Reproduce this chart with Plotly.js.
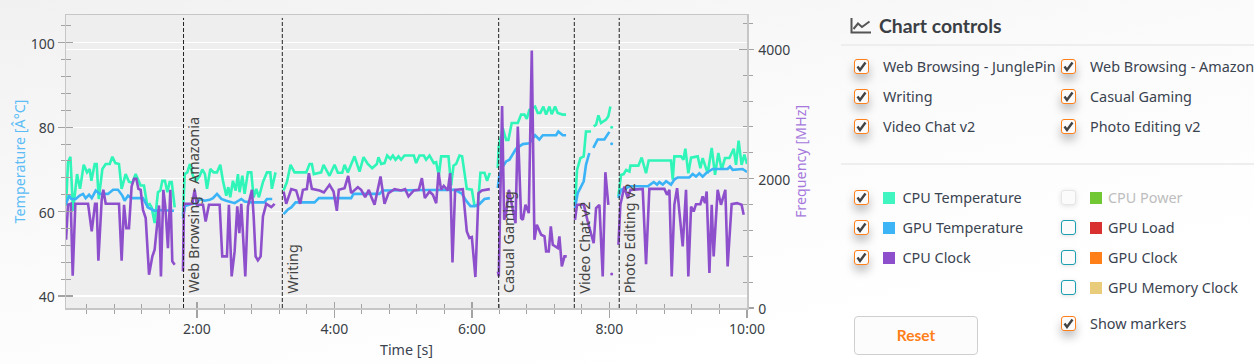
<!DOCTYPE html>
<html><head><meta charset="utf-8">
<script src="https://cdn.plot.ly/plotly-3.0.1.min.js"></script>
<style>
html,body{margin:0;padding:0;width:1254px;height:364px;overflow:hidden;background:linear-gradient(168deg,#f1f1f1 0,#fbfbfb 45%,#fff 80%);font-family:"Noto Sans",sans-serif;color:#3f4650}
#chart{position:absolute;left:0;top:0;width:1254px;height:364px}
#panel{position:absolute;left:0;top:0;width:1254px;height:364px;pointer-events:none}
.t{position:absolute;font-size:14.4px;line-height:20px;white-space:nowrap;color:#3a4350}
.cb{position:absolute;width:13px;height:13px;border:1.5px solid #ff7f19;border-radius:3px;background:#fbfbfb;box-shadow:0 6px 10px rgba(0,0,0,.25)}
.cb.off{border-color:#1a9eb0;box-shadow:0 1px 5px rgba(0,0,0,.12)}
.cb.dis{border-color:#e6e6e6;box-shadow:0 1px 5px rgba(0,0,0,.12)}
.cb svg{position:absolute;left:1px;top:1px}
.sw{position:absolute;width:12px;height:12px}
.sep{position:absolute;left:841px;width:413px;height:2px;background:#eeeeee}
#reset{position:absolute;left:854px;top:316px;width:122px;height:37px;border:1.5px solid #cfcfcf;border-radius:4px;background:#fcfcfc;color:#ff7f19;font:700 15.5px Lato,sans-serif;line-height:37px;text-align:center}
#ctitle{position:absolute;left:879px;top:14px;font:700 19.4px Lato,sans-serif;line-height:24px;color:#3b3f45}
</style></head><body>
<div id="chart"></div><div id="panel"></div>
<script>
// ---- axes ----
const xTickVals = [120, 240, 360, 480, 600];
const xTickText = ["2:00", "4:00", "6:00", "8:00", "10:00"];
const xRange = [5.75, 600];
const tempRange = [37.16, 106.6];
const freqRange = [0, 4530];

// ---- test boundaries ----
const testStarts = [108.3, 194.5, 383.3, 449.3, 488.5];
const testNames = ["Web Browsing - Amazonia", "Writing", "Casual Gaming", "Video Chat v2", "Photo Editing v2"];

// ---- CPU temperature ----
const cpuTempT = [5.8,7.5,9.6,11.9,15.4,18,21.2,24.1,26.4,27.9,30.8,32.5,34.3,37.5,40.4,43.9,46.2,48.8,52,54.3,57.8,60.7,63.6,66.5,70.9,73.8,76.7,78.8,80.5,83.1,86,88.1,89.8,92.1,94.2,96.2,98,100.6,null,
107.8,109.3,111.6,113.9,116.5,119.4,122.4,124.7,127,128.8,131.7,134.6,137.5,140.4,142.7,145.6,147.4,149.1,151.4,153.8,155.8,157.2,159.6,161.6,164.5,167.4,169.5,171.8,174.1,177.6,181.1,184,185.4,188.6,null,
195.6,198.5,201.7,205.2,215.4,218.3,220.3,222,228.4,230.5,235.7,240.1,243,246.8,248.8,251.7,257.5,261.9,265.4,269.1,272.9,277,278.4,280.8,283.7,286,288.9,291,293.3,295.9,298.2,301.1,309.3,311.3,314.2,318,320,323,326.7,328.8,331.1,333.1,339.5,341.8,343.9,346.2,349.1,351.4,355.5,359.9,362.2,365.1,367.4,370.9,373.2,375.6,null,
382.5,383.4,386.9,389.8,391.8,394.7,400,402.9,405.8,407.8,410.1,415.1,417.4,419.7,422.3,424.7,427.6,429.6,432.5,434.8,439.2,442.1,null,
449.9,451.7,454.6,457.5,459.5,463.9,null,466.2,468.3,470.3,472.6,477,479,480.8,null,
487.8,490.1,492.4,494.5,497.4,498.3,505.2,508.1,511.9,514.2,533.7,535.2,536.6,542.4,544.5,546.2,548.8,551.2,557,559.3,561.3,565.7,569.2,572.1,575,577.9,580.8,584.6,588.4,590.4,592.7,595.3,597.7,600];
const cpuTemp = [61.4,71.7,73,60.2,68.9,65.4,71.1,69.3,70.1,67.3,71.3,71.3,63,70.1,71.3,71.3,73,71.5,71.3,65.4,68.9,67.1,66.8,68.9,66.2,66.2,61.4,61.8,61,57.3,64.6,65,67.3,67.3,64.6,67,67,61,null,
59,68.9,69.3,71.3,68.5,67.3,68.5,70,68.9,65.4,70.1,69.3,69.3,71.1,67.3,63.8,65.8,63.4,67.3,65,68.9,64.6,68.5,64.2,69.3,69.3,63.4,65.4,63.4,67,69.3,69.3,65.4,69.3,null,
65,67,71.1,69.3,69.3,71.3,71.3,68.9,69.3,71.1,68.5,71.1,69.2,69.2,71.1,69.3,73.1,69.5,72.9,71.3,70.3,71.3,72.9,71.3,71.5,73.3,72.5,73.3,72.3,73.1,72.3,73.3,73.3,71.5,73.3,73.3,72.3,73.3,71.5,71.7,68.5,73.1,73.1,66.2,70.9,71.3,73.3,73.1,65.4,65.2,61.4,61.3,69.2,69.2,67.3,69.2,null,
70.3,75.5,79.8,77,77,81,81,83,83,82,84.1,84.9,83.4,83.4,84.9,83,84.9,83.1,84.9,83.4,83,83,null,
61.6,69.9,72.7,73.1,79,79,null,80.2,80.6,82.8,81,81.8,82.6,84.9,null,
63.6,68.7,68.9,69.9,69.5,70.9,70.9,72.8,69.1,72.1,72.1,67.6,73.1,73.1,72.3,74.9,69.1,72.8,73.1,70.3,72.7,69.1,75.1,68.7,73.9,69.9,72.7,72.7,74.9,71.1,76.8,71.1,73.5,71.3];

// ---- GPU temperature ----
const gpuTempT = [5.8,8.4,10.4,14.2,17.7,20.6,22.9,25.9,28.2,31.7,35.2,42.4,46.8,51.1,54.9,56.9,59.9,62.8,72.9,77.3,83.1,86.9,100,null,
107.8,109.6,115.1,119.4,122.4,126.7,131.1,134,137.5,141.3,145.6,148.5,152.9,158.7,161.6,167.4,179,181.1,185.7,null,
195.6,199.4,202.3,206.1,222.6,226.4,254.6,256.6,279.3,282.2,344.7,351.1,354.9,358.7,362.2,366.6,370.9,375.6,null,
382.5,384,386.9,389.8,392.7,398.5,404.3,410.1,415.1,418.8,421.8,433.4,435.4,439.2,442.1,null,
449.9,452.3,457.5,459.5,462.4,null,465.9,469.7,475.5,479.9,null,
487.8,490.1,494.5,498.3,513.4,515.7,518.6,521.5,523.5,526.5,529.4,533.7,536.6,539.5,549.7,552.6,555.5,558.4,561.3,564.2,570,574.4,583.1,585.2,587.5,596.2,600];
const gpuTemp = [61.8,63.8,63,63,63.8,64.2,63.2,64,63.2,65,64.2,64.2,65.2,65.2,63.8,62.6,63.8,63.2,63.2,61,60.2,60.4,60.2,null,
58.3,61.3,61.8,62,63,62.6,62.8,63.2,64.2,63,62.6,62.4,62,63,62.4,62.2,62.2,63,63,null,
59.4,60.5,61,62.2,62.2,63.2,63.2,64.2,64.2,65,65.2,64.3,62.6,61.3,61.3,61.8,63,63.2,null,
65.6,68.7,70.7,71.9,72.3,74.9,76,76.2,78.1,77.1,78.1,78.1,79,78.1,78.1,null,
60.8,64.4,67.2,71.1,73.9,null,75.1,77.1,77.1,78.9,null,
63.2,65.2,65.6,66,66,66.4,67,66.4,67,66.4,67.2,66.4,67.6,68.1,68.1,68.9,68.3,69.1,68.3,69.1,70.1,70.1,70.1,70.7,69.9,70.1,69.4];

// ---- CPU clock ----
const cpuClockT = [5.8,7.5,9.9,11.6,13.9,25,28.2,31.1,32.5,34,36.9,38.3,40.4,52,54.3,56.4,58.4,60.7,63,65.1,67.1,68.9,70.9,72.9,75.3,78.2,81.1,83.1,86.9,88.6,90.7,92.4,94.7,96.8,98.5,100.6,null,
107.8,108.7,116,118,120,125.3,127.6,130.5,139.8,142.1,146.2,147.9,150.3,152.9,155.2,157,158.7,162.2,164.5,168,169.5,171.2,173.2,175.6,177.6,180.5,184.9,187.8,null,
195.6,197.9,202.3,206.6,210.1,212.5,215.9,217.7,220.3,227,230.8,235.7,239.2,242.1,243.8,248.8,252,254.6,260.4,263.3,266.8,270,272,275,280.2,283.7,287.2,292.4,298.2,301.7,304.6,309.3,313.6,316.3,318.9,323,325.9,328.8,330.8,333.1,335.4,338.9,341,343,345.3,352,355.5,357.8,359.9,363,365.7,368.6,375.6,null,
382.6,383.4,386.3,388.1,389.8,392.2,395.1,398,400,402.9,404.4,406.7,409.6,412.2,414.5,416.6,420.4,423.3,424.7,427,428.8,430.5,434.9,436.3,438.4,440.7,442.7,null,
449.9,451.7,457.5,461,466.2,468.3,471.2,474.1,476.4,479,null,
487.8,489.5,493,495.9,498.3,509,511.9,514.8,527.9,530.2,532.3,534.3,536.6,539,543.9,546.8,548.8,551.2,553.5,555.5,559.3,561.3,563.4,564.8,567.2,569.2,570.9,574.4,577.3,581.1,583.1,586.6,591.3,595.3,597.1];
const cpuClock = [1055,1596,1611,499,1611,1611,1184,1611,1611,731,1673,1827,1611,1611,731,1596,1235,1235,1879,1997,1997,1843,1827,1518,1390,515,798,901,1585,489,1827,1570,926,1827,721,669,null,
566,1611,1611,1827,1596,1596,1338,1596,1596,798,798,1596,489,875,1570,1158,1611,489,1570,1827,1415,798,736,798,1415,1611,1560,1611,null,
1801,1611,1838,1817,1611,1827,1838,2085,1843,1817,1786,1904,1801,1503,1827,1853,2043,1776,1868,1827,1714,1827,1724,1596,2033,1611,1776,1838,1817,1838,1724,1817,1827,2007,1699,1801,1750,1621,2095,1827,1889,1817,2085,705,1827,1838,1184,1081,1096,479,1776,1817,1838,null,
566,489,3124,1364,1467,1827,1570,1312,2805,1390,1364,1596,1467,3979,1055,1287,1132,1107,875,875,1261,978,926,1107,643,798,798,null,
1363,1594,1605,1337,1003,1543,1594,488,2099,1594,null,
978,1595,1878,1698,1827,1842,679,1842,1842,1750,1827,488,1595,1853,952,1827,488,1569,1492,1605,1605,1724,1621,1801,540,1595,797,1827,1595,1827,643,1605,1621,1595,1441];

// ---- lone samples after the Video Chat run ----
const loneT = [481.9];
const loneCpuTemp = [80];
const loneGpuTemp = [76.1];
const loneCpuClock = [524];

// ---- control panel ----
const testList = [["Web Browsing - JunglePin",true],["Web Browsing - Amazonia",true],["Writing",true],["Casual Gaming",true],["Video Chat v2",true],["Photo Editing v2",true]];
const seriesLeft = [["CPU Temperature","#40f5c0"],["GPU Temperature","#3cb4f5"],["CPU Clock","#8e4fcc"]];
const seriesRight = [["CPU Power","#72c832","dis"],["GPU Load","#d93030","off"],["GPU Clock","#ff7f19","off"],["GPU Memory Clock","#e8cc7c","off"]];

const TEAL="#2ff5b8", BLUE="#3ab4f7", PURPLE="#8e4fcc";
const AX="#c6c6c6", TK="#a3a3a3", TF={family:"Noto Sans, sans-serif",size:14,color:"#3a3f46"};
const TT={family:"Noto Sans, sans-serif",size:14.3,color:"#3a4350"};

const traces=[
 {x:cpuTempT,y:cpuTemp,mode:"lines",line:{color:TEAL,width:2.6},yaxis:"y",xaxis:"x",hoverinfo:"skip"},
 {x:gpuTempT,y:gpuTemp,mode:"lines",line:{color:BLUE,width:2.6},yaxis:"y",xaxis:"x",hoverinfo:"skip"},
 {x:cpuClockT,y:cpuClock,mode:"lines",line:{color:PURPLE,width:2.6},yaxis:"y2",xaxis:"x",hoverinfo:"skip"},
 {x:loneT,y:loneCpuTemp,mode:"markers",marker:{color:TEAL,size:3},yaxis:"y",xaxis:"x",hoverinfo:"skip"},
 {x:loneT,y:loneGpuTemp,mode:"markers",marker:{color:BLUE,size:3},yaxis:"y",xaxis:"x",hoverinfo:"skip"},
 {x:loneT,y:loneCpuClock,mode:"markers",marker:{color:PURPLE,size:3},yaxis:"y2",xaxis:"x",hoverinfo:"skip"}
];

const shapes=testStarts.map(v=>({type:"line",xref:"x",yref:"paper",x0:v,x1:v,y0:0,y1:0.99,line:{color:"#222",width:1,dash:"4px,2px"},layer:"above"}));
const annotations=testStarts.map((v,i)=>({xref:"x",yref:"paper",x:v,y:0.043,xanchor:"left",yanchor:"bottom",xshift:-1.5,text:testNames[i],textangle:-90,showarrow:false,font:{family:"Noto Sans, sans-serif",size:14.4,color:"#444"}}));

const layout={
 width:1254,height:364,paper_bgcolor:"rgba(0,0,0,0)",plot_bgcolor:"#eeeeee",showlegend:false,
 margin:{l:66,r:506.5,t:15,b:56,pad:0},shapes,annotations,hovermode:false,
 xaxis:{range:xRange,tickmode:"array",tickvals:xTickVals,ticktext:xTickText,ticks:"outside",ticklen:8,tickcolor:TK,tickwidth:1.2,
   showgrid:false,zeroline:false,showline:true,linecolor:AX,linewidth:1.5,mirror:true,tickfont:TF,
   title:{text:"Time [s]",font:TT,standoff:7},
   minor:{tickmode:"linear",tick0:0,dtick:24,ticks:"outside",ticklen:4,tickcolor:TK,tickwidth:1,showgrid:false}},
 xaxis2:{range:xRange,overlaying:"x",anchor:"y",side:"bottom",tickmode:"array",tickvals:xTickVals,ticks:"inside",ticklen:6,tickcolor:TK,tickwidth:1.2,showticklabels:false,showgrid:false,zeroline:false,showline:false,
   minor:{tickmode:"linear",tick0:0,dtick:24,ticks:"inside",ticklen:4,tickcolor:TK,tickwidth:1,showgrid:false}},
 yaxis:{range:tempRange,tickmode:"linear",tick0:0,dtick:20,ticks:"outside",ticklen:7,tickcolor:TK,tickwidth:1.2,gridcolor:"#ffffff",gridwidth:1.2,zeroline:false,showline:true,linecolor:AX,linewidth:1.5,tickfont:TF,ticklabelshift:1,
   title:{text:"Temperature [Â°C]",font:{family:"Noto Sans, sans-serif",size:14.3,color:"#5cbdf6"},standoff:1},
   minor:{tickmode:"linear",tick0:0,dtick:4,ticks:"outside",ticklen:3.5,tickcolor:TK,tickwidth:1,showgrid:false}},
 yaxis3:{range:tempRange,overlaying:"y",anchor:"x",side:"left",tickmode:"linear",tick0:0,dtick:20,ticks:"inside",ticklen:7,tickcolor:TK,tickwidth:1.2,showticklabels:false,showgrid:false,zeroline:false,showline:false,
   minor:{tickmode:"linear",tick0:0,dtick:4,ticks:"inside",ticklen:5,tickcolor:TK,tickwidth:1,showgrid:false}},
 yaxis2:{range:freqRange,overlaying:"y",anchor:"x",side:"right",tickmode:"linear",tick0:0,dtick:2000,ticks:"outside",ticklen:5,tickcolor:TK,tickwidth:1.2,showgrid:true,gridcolor:"#ffffff",gridwidth:1,zeroline:false,showline:true,linecolor:AX,linewidth:1.5,tickfont:TF,ticklabelstandoff:2,ticklabelshift:1,
   title:{text:"Frequency [MHz]",font:{family:"Noto Sans, sans-serif",size:14.3,color:"#a678dc"},standoff:6},
   minor:{tickmode:"linear",tick0:0,dtick:400,ticks:"outside",ticklen:4,tickcolor:TK,tickwidth:1,showgrid:false}},
 yaxis4:{range:freqRange,overlaying:"y",anchor:"x",side:"right",tickmode:"linear",tick0:0,dtick:2000,ticks:"inside",ticklen:8,tickcolor:TK,tickwidth:1.2,showticklabels:false,showgrid:false,zeroline:false,showline:false,
   minor:{tickmode:"linear",tick0:0,dtick:400,ticks:"inside",ticklen:4,tickcolor:TK,tickwidth:1,showgrid:false}}
};
// empty traces bind the overlay tick axes
traces.push({x:[],y:[],xaxis:"x2",yaxis:"y",hoverinfo:"skip"},{x:[],y:[],xaxis:"x",yaxis:"y3",hoverinfo:"skip"},{x:[],y:[],xaxis:"x",yaxis:"y4",hoverinfo:"skip"});

Plotly.newPlot("chart",traces,layout,{displayModeBar:false,staticPlot:true});

// ---- control panel DOM ----
const panel=document.getElementById("panel");
const CHECK='<svg width="11" height="11" viewBox="0 0 11 11"><path d="M1.5 5.5 L4 9 L9.5 1.5" fill="none" stroke="#444" stroke-width="2.4"/></svg>';
function add(cls,css,html){const d=document.createElement("div");d.className=cls;d.style.cssText=css;if(html)d.innerHTML=html;panel.appendChild(d);return d;}
function cb(x,yc,kind){add("cb "+(kind||""),`left:${x}px;top:${yc-8}px`,kind?"":CHECK);}
function label(x,yc,txt,col){const d=add("t",`left:${x}px;top:${yc-10}px;`+(col?`color:${col}`:""));d.textContent=txt;}
add("","position:absolute;left:850px;top:17px;width:22px;height:18px",'<svg width="22" height="18" viewBox="0 0 22 18"><path d="M1.5 1 V15.5 H21" fill="none" stroke="#555" stroke-width="2"/><path d="M3.5 12 L8 6.5 L12 10 L19.5 4.5" fill="none" stroke="#555" stroke-width="2"/></svg>');
add("","","").id="ctitle";document.getElementById("ctitle").textContent="Chart controls";
add("sep","top:44px");add("sep","top:163px");
testList.forEach((it,i)=>{const col=i%2,row=(i-col)/2,yc=67+30*row;cb(col?1061:854,yc);label(col?1090:883,yc,it[0]);});
seriesLeft.forEach((it,i)=>{const yc=198+30*i;cb(854,yc);add("sw",`left:883px;top:${yc-6}px;background:${it[1]}`);label(902.5,yc,it[0]);});
seriesRight.forEach((it,i)=>{const yc=198+30*i;cb(1061,yc,it[2]);add("sw",`left:1090px;top:${yc-6}px;background:${it[1]}`);label(1108,yc,it[0],it[2]=="dis"?"#bdbdbd":null);});
cb(1061,324);label(1090,324,"Show markers");
add("","","").id="reset";document.getElementById("reset").textContent="Reset";
</script></body></html>
